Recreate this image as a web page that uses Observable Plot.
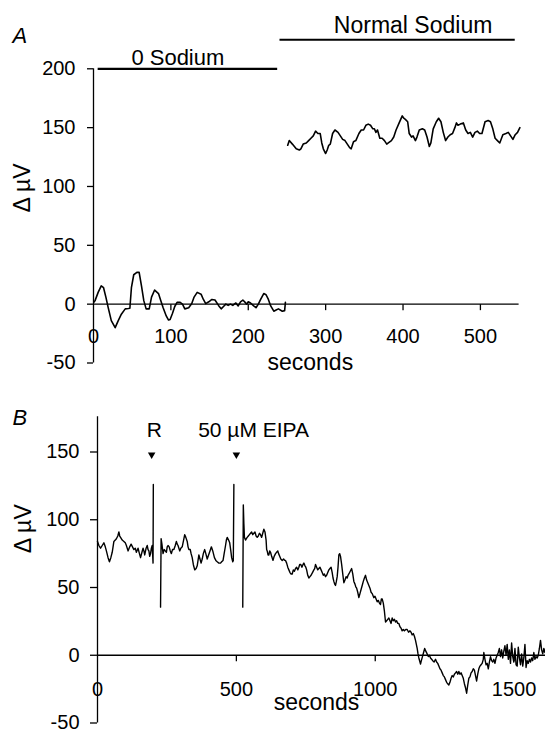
<!DOCTYPE html>
<html><head><meta charset="utf-8">
<script src="https://cdn.jsdelivr.net/npm/d3@7"></script>
<script src="https://cdn.jsdelivr.net/npm/@observablehq/plot@0.6"></script>
<style>
body{margin:0;background:#fff;}
#wrap{position:relative;width:545px;height:733px;overflow:hidden;background:#fff}
#a{position:absolute;left:0;top:0}
#b{position:absolute;left:0;top:390px}
</style></head><body><div id="wrap"><div id="a"></div><div id="b"></div></div>
<script>
// ---------- Panel A data ----------
const aZeroSodium = [[1,2],[2,3],[6,10],[10,15.5],[13,14],[16,6],[19,-3],[23,-14],[28,-20],[32,-14],[36,-8.5],[41,-4],[45,-3.7],[47,-3.5],[49,14],[52,25],[56,27],[59,27],[62,15.5],[65,3],[68,-4],[72,-4],[75,6],[79,12],[84,9],[87,3],[90,-3],[94,-10],[97,-13.5],[99,-13],[102,-8],[105,-2],[108,1.5],[112,1.5],[115,0],[118,-4],[123,-3],[127,0.5],[130,6],[134,10],[139,8.5],[142,4],[145,0.5],[149,2],[153,4],[157,3.5],[162,-1.5],[165,-4],[168,-2],[171,0],[174,-1],[177,0],[180,-1],[184,1],[187,-1.5],[190,2],[193,3.5],[196,1.5],[198,0],[200,2],[203,1],[207,-1.5],[210,-3],[213,0],[216,4],[220,9],[223,8],[226,4],[229,-1.5],[233,-6],[236,-5],[239,-4],[244,-6],[247,-5.5],[248,1.5]];
const aNormalSodium = [[251,135],[253,139],[257,136],[262,132],[266,131],[268,132],[271,136],[275,137],[278,139],[281,141],[284,143],[287,147],[290,145],[293,145],[295,137],[297,132],[300,128],[302,131],[304,135],[306,136],[309,145],[312,148],[316,146],[319,143],[322,140],[325,139],[328,136],[331,133],[333,132],[336,138],[339,139],[343,145],[346,148],[349,148],[352,152],[355,153],[358,152],[361,149],[363,149],[365,146],[367,148],[370,141],[373,141],[376,139],[379,136],[381,137],[385,139],[388,142],[391,148],[395,154],[399,160],[401,158],[403,157],[406,155],[408,145],[411,142],[413,143],[416,139],[418,142],[421,148],[425,149],[428,148],[431,142],[434,134],[436,137],[439,149],[443,155],[446,158],[449,155],[452,146],[455,139],[458,142],[461,144],[464,145],[467,150],[469,154],[471,152],[474,153],[478,154],[481,148],[484,145],[487,146],[490,142],[493,146],[496,147],[499,145],[502,145],[506,155],[510,156],[513,155],[516,149],[519,141],[522,139],[525,137],[529,144],[533,145],[536,146],[539,143],[542,140],[545,144],[548,146],[551,150]];
const aXTicks = [0,100,200,300,400,500];
const aYTicks = [-50,0,50,100,150,200];
const aBars = [
  {label:"0 Sodium", start:6, end:238, level:200, labelT:109, labelV:209, size:22},
  {label:"Normal Sodium", start:241, end:545, level:224.7, labelT:413, labelV:236.6, size:23}
];

// ---------- Panel B data ----------
const bBeforeR = [[0,84],[5,81],[11,79],[17,81],[23,83],[28,80],[32,77],[38,72],[43,69],[48,72],[53,76],[59,84],[64,85],[68,86],[73,88],[77,91],[80,88],[83,87],[89,85],[95,84],[100,83],[104,81],[110,77],[116,80],[121,82],[126,80],[131,78],[136,79],[140,76],[146,79],[151,75],[155,72],[160,76],[164,79],[167,77],[170,74],[175,79],[179,81],[182,78],[185,77],[188,73],[191,75],[194,79],[197,81],[200,68],[201,126]];
const bAfterR = [[227,35.5],[229,86],[232,82],[236,75],[240,78],[244,77],[248,76],[251,80],[254,81],[258,80],[262,77],[266,75],[270,78],[275,78],[280,81],[284,84],[287,82],[290,81],[293,79],[296,77],[300,79],[305,80],[310,85],[314,89],[318,87],[323,84],[326,80],[329,78],[334,78],[337,75],[341,72],[345,67],[350,63],[355,64],[359,66],[362,70],[365,74],[369,71],[373,68],[377,71],[381,75],[386,78],[390,75],[395,71],[400,74],[405,77],[410,80],[415,77],[421,72],[426,70],[431,69],[437,68],[443,68],[447,69],[452,70],[456,75],[461,81],[464,85],[467,87],[472,85],[476,83],[480,77],[483,72],[487,69],[489,70],[491,126]];
const bAfterEIPA = [[523,35.5],[525,111],[527,97],[529,87],[533,85],[536,86],[539,87],[543,88],[547,89],[551,90],[555,91],[559,89],[563,90],[567,91],[571,88],[575,87],[579,88],[583,90],[587,89],[591,87],[595,90],[599,93],[603,91],[607,85],[609,78],[611,77],[614,74],[617,74],[620,77],[623,76],[627,73],[632,70],[636,73],[641,75],[645,76],[649,77],[652,75],[656,73],[660,71],[665,70],[670,71],[674,70],[677,70],[681,68],[685,65],[689,63],[693,61],[697,60],[701,60],[705,63],[709,62],[713,64],[717,65],[721,63],[725,65],[728,67],[732,67],[736,65],[740,67],[743,68],[747,66],[750,65],[753,63],[757,59],[761,57],[765,58],[769,59],[774,61],[779,63],[782,64],[785,67],[789,65],[793,63],[797,64],[801,65],[805,63],[809,61],[813,59],[817,60],[821,58],[825,59],[829,61],[833,63],[837,64],[841,65],[845,61],[848,57],[851,54.5],[854,52.5],[857,51.5],[860,54.5],[863,58],[866,65],[869,74],[872,75],[875,73],[879,67],[883,60],[887,53.5],[891,55.5],[895,58],[899,57],[902,59],[905,60],[910,62],[915,64],[919,60],[923,54.5],[927,52.5],[930,50.5],[933,49.5],[937,46.5],[941,42.5],[945,45.5],[949,48.5],[953,51.5],[957,54.5],[961,57],[965,59],[969,55.5],[973,53.5],[977,51.5],[981,49.5],[985,46.5],[989,45.5],[995,42.5],[999,43.5],[1003,41.5],[1007,39.5],[1011,40.5],[1015,38.5],[1019,37.5],[1022,41.5],[1025,41.5],[1029,38.5],[1033,32.5],[1037,24.5],[1041,25.5],[1045,26.5],[1049,27.5],[1053,25.5],[1057,23.5],[1061,27.5],[1065,25.5],[1069,26.5],[1073,24.5],[1077,25.5],[1081,23.5],[1085,23.5],[1089,21],[1093,20],[1097,18],[1101,19],[1105,18],[1110,19],[1115,19],[1120,17],[1125,18],[1129,17],[1133,15],[1137,16],[1141,14],[1145,11],[1148,8],[1151,5],[1154,1],[1157,-2],[1161,-5],[1163,-6.5],[1166,-4],[1170,-1],[1174,2],[1178,5],[1182,3],[1187,1],[1191,-1],[1195,0],[1199,-2],[1203,-3],[1207,-4],[1212,-5],[1217,-3],[1221,-5],[1225,-6],[1229,-8],[1233,-10],[1237,-11],[1241,-13],[1245,-15],[1249,-16],[1253,-18],[1257,-20],[1261,-21],[1265,-22],[1269,-20],[1273,-17],[1277,-15],[1281,-16],[1285,-14],[1289,-13],[1293,-12],[1297,-14],[1301,-12],[1305,-14],[1309,-13],[1313,-15],[1317,-17],[1321,-21],[1325,-24],[1329,-28],[1333,-22],[1337,-17],[1341,-16],[1345,-13],[1349,-12],[1353,-10],[1357,-11],[1361,-15],[1365,-19],[1369,-14],[1373,-10],[1377,-8],[1381,-7],[1385,-6],[1389,-3],[1391,2],[1395,-3],[1399,-7],[1403,-6],[1407,-10],[1411,-5],[1415,-1],[1419,-4],[1423,-5],[1427,-3],[1431,-6],[1435,-2],[1439,0],[1443,2],[1447,5],[1451,-1],[1455,4],[1459,-2],[1463,3],[1467,7],[1471,0],[1475,8],[1479,-3],[1483,4],[1487,-6],[1491,9],[1495,-1],[1499,-5],[1503,5],[1507,-7],[1511,-8],[1515,6],[1519,-2],[1523,-7],[1527,1],[1531,-8],[1535,-2],[1539,8],[1543,-9],[1547,-4],[1551,-6],[1555,-3],[1559,-5],[1563,-2],[1567,-4],[1571,2],[1575,-3],[1579,-1],[1583,-2],[1587,0],[1591,5],[1595,11],[1599,4],[1603,1],[1607,5],[1611,2],[1613,4]];
const bXTicks = [0,500,1000,1500];
const bYTicks = [-50,0,50,100,150];
const bMarkers = [
  {label:"R", t:195, labelT:205},
  {label:"50 \u00b5M EIPA", t:500, labelT:562}
];

// ---------- drawing ----------
const FONT = "'Liberation Sans', Arial, Helvetica, sans-serif";
const rows = (pairs, seg) => pairs.map(([t, v]) => ({t, v, seg}));
const tickDown = {draw(ctx) { ctx.moveTo(0, 0); ctx.lineTo(0, 6); }};

const plotA = Plot.plot({
  width: 545, height: 390,
  marginLeft: 93, marginRight: 26.4, marginTop: 68.3, marginBottom: 27.5,
  x: {domain: [0, 550], axis: null},
  y: {domain: [-50, 200]},
  style: {fontFamily: FONT, fontSize: "20px", color: "black", background: "white"},
  marks: [
    Plot.ruleY([0], {x1: 0, x2: 550, strokeWidth: 1.3}),
    Plot.ruleX([0], {y1: -50, y2: 200, strokeWidth: 1.3}),
    Plot.axisY({ticks: aYTicks, tickSize: 6, tickPadding: 12, tickFormat: d => String(d), label: null, strokeWidth: 1.3}),
    Plot.dot(aXTicks.filter(d => d > 0), {x: d => d, y: 0, symbol: tickDown, fill: "none", stroke: "black", strokeWidth: 1.3}),
    Plot.text(aXTicks, {x: d => d, y: 0, dy: 32.5, text: d => String(d), fontSize: 20}),
    Plot.text(["seconds"], {frameAnchor: "bottom", dx: 4, dy: 7, fontSize: 23}),
    Plot.text(["\u0394 \u00b5V"], {x: 0, y: 98.7, dx: -71, rotate: -90, fontSize: 23}),
    Plot.text(["A"], {frameAnchor: "top-left", dx: -81, dy: -41.7, textAnchor: "start", fontStyle: "italic", fontSize: 22}),
    Plot.ruleY(aBars, {y: "level", x1: "start", x2: "end", strokeWidth: 2.2}),
    Plot.text(aBars, {x: "labelT", y: "labelV", text: "label", fontSize: d => d.size}),
    Plot.line(rows(aZeroSodium, 0), {x: "t", y: "v", strokeWidth: 1.6}),
    Plot.line(rows(aNormalSodium, 1), {x: "t", y: "v", strokeWidth: 1.6})
  ]
});
document.getElementById("a").appendChild(plotA);

const bRows = [...rows(bBeforeR, 0), ...rows(bAfterR, 1), ...rows(bAfterEIPA, 2)];
const plotB = Plot.plot({
  width: 545, height: 343,
  marginLeft: 97, marginRight: 0, marginTop: 61.5, marginBottom: 10.5,
  x: {domain: [0, 1613], axis: null},
  y: {domain: [-50, 150]},
  style: {fontFamily: FONT, fontSize: "20px", color: "black", background: "white"},
  marks: [
    Plot.ruleY([0], {x1: 0, x2: 1613, strokeWidth: 1.3}),
    Plot.ruleX([0], {y1: -50, y2: 176, strokeWidth: 1.3}),
    Plot.axisY({ticks: bYTicks, tickSize: 7, tickPadding: 11, tickFormat: d => String(d), label: null, strokeWidth: 1.3}),
    Plot.dot(bXTicks.filter(d => d > 0), {x: d => d, y: 0, symbol: tickDown, fill: "none", stroke: "black", strokeWidth: 1.3}),
    Plot.text(bXTicks, {x: d => d, y: 0, dy: 34, text: d => String(d), fontSize: 20}),
    Plot.text(["seconds"], {frameAnchor: "bottom", dx: -5, dy: -13, fontSize: 23}),
    Plot.text(["\u0394 \u00b5V"], {x: 0, y: 93.3, dx: -74, rotate: -90, fontSize: 23}),
    Plot.text(["B"], {frameAnchor: "top-left", dx: -85, dy: -42.7, textAnchor: "start", fontStyle: "italic", fontSize: 22}),
    Plot.dot(bMarkers, {x: "t", y: 148, symbol: "triangle", r: 2.8, rotate: 180, fill: "black", stroke: "none"}),
    Plot.text(bMarkers, {x: "labelT", y: 166, text: "label", fontSize: 21}),
    Plot.line(bRows, {x: "t", y: "v", z: "seg", strokeWidth: 1.4})
  ]
});
document.getElementById("b").appendChild(plotB);
</script></body></html>
